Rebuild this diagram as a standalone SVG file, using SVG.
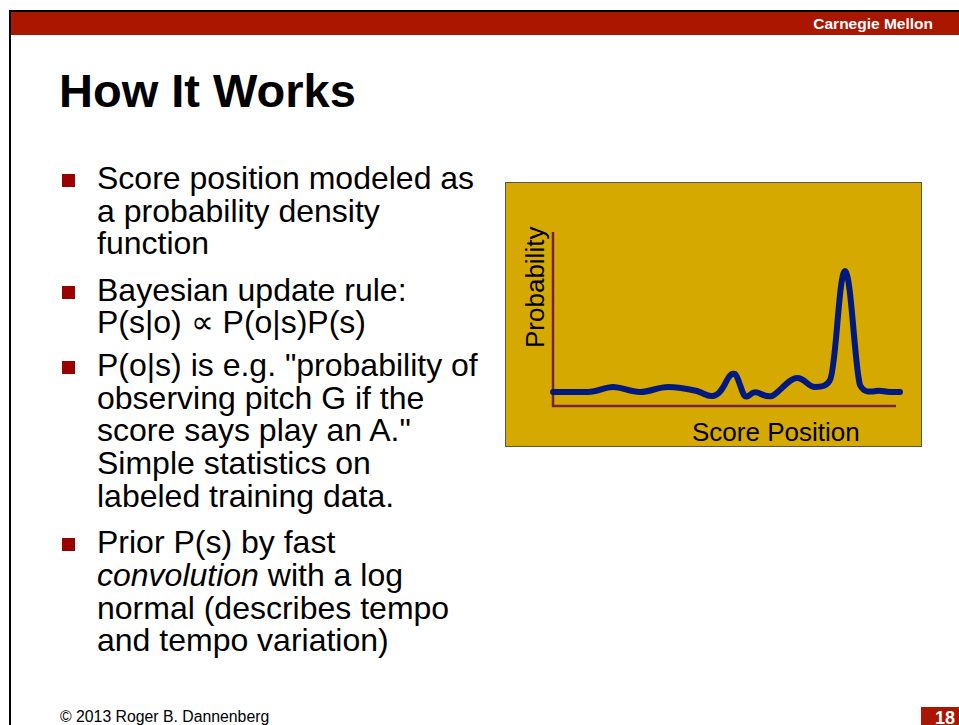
<svg xmlns="http://www.w3.org/2000/svg" width="959" height="725" viewBox="0 0 959 725">
<style>
text{font-family:"Liberation Sans",Arial,sans-serif;}
.b{font-size:32px;fill:#000;}
.sq{fill:#990000;}
.axis{stroke:#7A2048;stroke-width:2.5;fill:none;}
</style>
<rect x="0" y="0" width="959" height="725" fill="#fff"/>
<g id="header">
<rect x="9" y="10" width="950" height="2" fill="#000"/>
<rect x="9" y="10" width="2" height="715" fill="#000"/>
<rect x="11" y="12" width="948" height="23" fill="#AA1600"/>
<text x="933" y="28.5" font-size="15.5" font-weight="bold" fill="#fff" text-anchor="end">Carnegie Mellon</text>
</g>
<g id="title">
<text x="59" y="107" font-size="47" font-weight="bold" fill="#000">How It Works</text>
</g>
<g id="bullets">
<g id="bullet1">
<rect class="sq" x="62" y="174" width="13" height="13"/>
<text class="b"><tspan x="97" y="189">Score position modeled as</tspan><tspan x="97" y="222">a probability density</tspan><tspan x="97" y="254">function</tspan></text>
</g>
<g id="bullet2">
<rect class="sq" x="62" y="286" width="13" height="13"/>
<text class="b"><tspan x="97" y="301">Bayesian update rule:</tspan><tspan x="97" y="333">P(s|o) ∝ P(o|s)P(s)</tspan></text>
</g>
<g id="bullet3">
<rect class="sq" x="62" y="361" width="13" height="13"/>
<text class="b"><tspan x="97" y="376">P(o|s) is e.g. "probability of</tspan><tspan x="97" y="409">observing pitch G if the</tspan><tspan x="97" y="441">score says play an A."</tspan><tspan x="97" y="474">Simple statistics on</tspan><tspan x="97" y="507">labeled training data.</tspan></text>
</g>
<g id="bullet4">
<rect class="sq" x="62" y="538" width="13" height="13"/>
<text class="b"><tspan x="97" y="553">Prior P(s) by fast</tspan><tspan x="97" y="586" font-style="italic">convolution</tspan><tspan> with a log</tspan><tspan x="97" y="619">normal (describes tempo</tspan><tspan x="97" y="651">and tempo variation)</tspan></text>
</g>
</g>
<g id="chart">
<rect x="505.5" y="182.5" width="416" height="264" fill="#D6A900" stroke="#555" stroke-width="1"/>
<path class="axis" d="M553,232 L553,406 L896,406"/>
<path d="M553,392 L588,392 C598,392 604,387 613,387 C622,387 630,392 640,392 C650,392 658,387 668,387 C678,387 688,389 697,391 C704,393 707,397 713,396 C720,395 724,386 727,380 C730,374 733,373 735,374 C738,376 741,390 744,395 C746,398 749,396 751,394 C754,391 757,392 761,394 C765,396 768,397 772,396 C779,393 789,378 797,378 C805,378 808,387 815,387 C822,387 827,386 830,380 C836,370 839,271 845,271 C851,271 855,370 860,385 C864,393 870,392 876,391 C882,390 884,392 890,392 L900,392" fill="none" stroke="#00197F" stroke-width="6" stroke-linecap="round" stroke-linejoin="round"/>
<text transform="translate(544,348) rotate(-90)" font-size="26" fill="#000">Probability</text>
<text x="692" y="441" font-size="26" fill="#000">Score Position</text>
</g>
<g id="footer">
<text x="60" y="722" font-size="15.8" fill="#000">© 2013 Roger B. Dannenberg</text>
<rect x="921" y="707" width="38" height="18" fill="#AA1600"/>
<text x="935" y="724" font-size="18" font-weight="bold" fill="#fff">18</text>
</g>
</svg>
